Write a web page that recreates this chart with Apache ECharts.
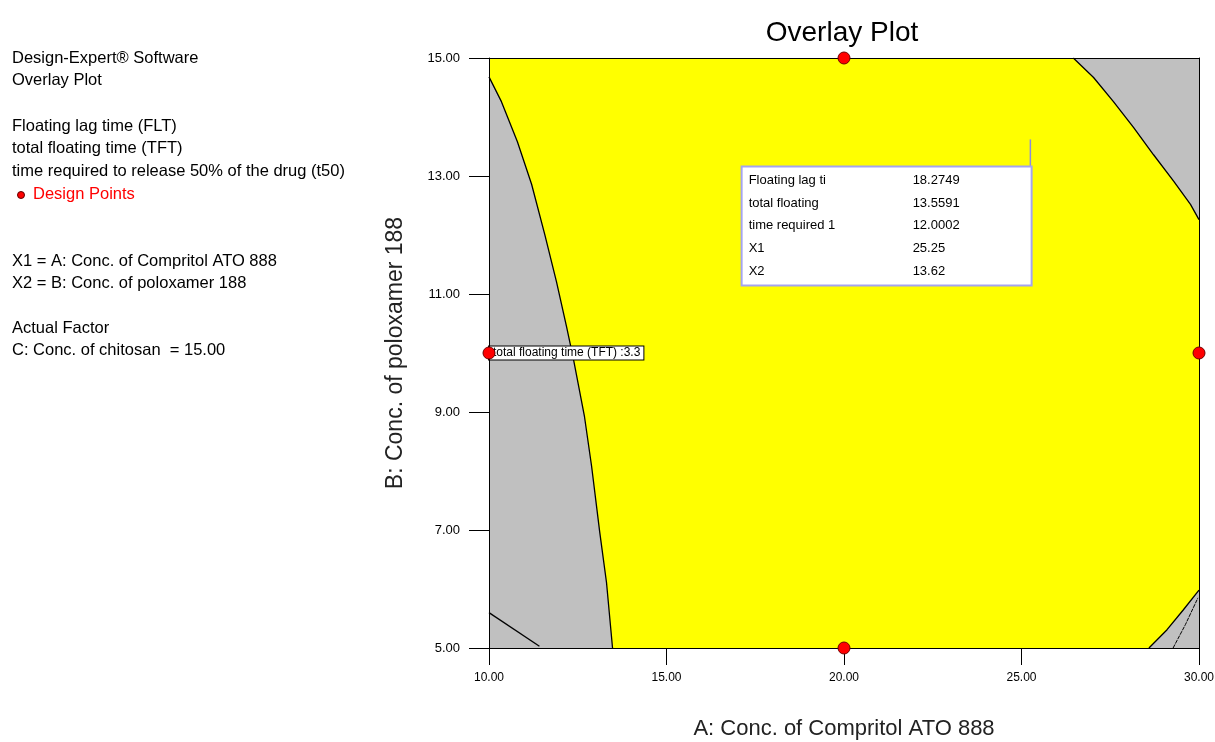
<!DOCTYPE html>
<html>
<head>
<meta charset="utf-8">
<script src="https://cdn.jsdelivr.net/npm/echarts@6/dist/echarts.min.js"></script>
<style>
  html, body { margin: 0; padding: 0; background: #fff; }
  #chart { width: 1215px; height: 742px; }
</style>
</head>
<body>
<div id="chart"></div>
<script>
// Factor ranges and tick values
const xTicks = [10, 15, 20, 25, 30];
const yTicks = [5, 7, 9, 11, 13, 15];

// Boundaries of the region that meets all response criteria (A, B)
const leftBoundary = [
  [13.48, 5.00], [13.31, 6.11], [13.12, 6.96], [12.89, 8.08], [12.69, 8.92],
  [12.38, 9.89], [12.19, 10.43], [11.90, 11.21], [11.57, 12.01], [11.20, 12.86],
  [10.80, 13.58], [10.35, 14.26], [10.00, 14.68]
];
const topRightBoundary = [
  [26.46, 15.00], [27.03, 14.67], [27.59, 14.26], [28.16, 13.82],
  [28.72, 13.36], [29.29, 12.91], [29.76, 12.52], [30.00, 12.26]
];
const bottomRightBoundary = [
  [30.00, 5.98], [29.55, 5.64], [29.10, 5.31], [28.59, 5.00]
];

// Other contour lines lying in the excluded area
const bottomLeftContour = [[10.00, 5.60], [11.42, 5.03]];
const bottomRightContour = [[29.27, 5.00], [29.62, 5.40], [29.97, 5.85]];

// Design points and flags
const designPoints = [[20, 15], [20, 5], [10, 10], [30, 10]];
const flagPoint = [10, 10];
const flagText = 'total floating time (TFT) :3.3';
const optimumPoint = [25.25, 13.62];
const optimumNames = ['Floating lag ti', 'total floating', 'time required 1', 'X1', 'X2'];
const optimumValues = ['18.2749', '13.5591', '12.0002', '25.25', '13.62'];

// Side notes
const sideNotes = [
  ['Design-Expert® Software', 58, '#000'],
  ['Overlay Plot', 80, '#000'],
  ['Floating lag time (FLT)', 126, '#000'],
  ['total floating time (TFT)', 148, '#000'],
  ['time required to release 50% of the drug (t50)', 171, '#000'],
  ['Design Points', 194, '#ff0000'],
  ['X1 = A: Conc. of Compritol ATO 888', 261, '#000'],
  ['X2 = B: Conc. of poloxamer 188', 283, '#000'],
  ['Actual Factor', 328, '#000'],
  ['C: Conc. of chitosan  = 15.00', 350, '#000']
];

// Closed outline of the feasible (yellow) region
const feasibleRegion = [[10, 15]]
  .concat(topRightBoundary, bottomRightBoundary, leftBoundary);

const FONT = '"Liberation Sans", Arial, sans-serif';
const chart = echarts.init(document.getElementById('chart'), null, { renderer: 'canvas' });

const graphics = [{
  type: 'text', x: 842, y: 33,
  style: { text: 'Overlay Plot', font: '28px ' + FONT, fill: '#000',
    textAlign: 'center', textVerticalAlign: 'middle' }
}];
sideNotes.forEach(([t, y, c]) => {
  const isLegend = t === 'Design Points';
  graphics.push({
    type: 'text', x: isLegend ? 33 : 12, y: y,
    style: { text: t, font: '16.5px ' + FONT, fill: c, textVerticalAlign: 'middle' }
  });
});
graphics.push({
  type: 'circle', shape: { cx: 21, cy: 195, r: 3.5 },
  style: { fill: '#ff0000', stroke: '#600000', lineWidth: 1 }
});

const twoDec = v => v.toFixed(2);
const contourLine = (data) => ({
  type: 'line', data: data, showSymbol: false, symbol: 'none', silent: true,
  lineStyle: { color: '#000', width: 1.3 }, z: 3, animation: false
});

const option = {
  animation: false,
  backgroundColor: '#fff',
  grid: {
    left: 489, right: 16, top: 58, bottom: 94,
    show: true, backgroundColor: '#c0c0c0', borderWidth: 0,
    outerBoundsMode: 'none'
  },
  graphic: graphics,
  xAxis: [{
    type: 'value', min: 10, max: 30, interval: 5, position: 'bottom', z: 6,
    name: 'A: Conc. of Compritol ATO 888', nameLocation: 'middle', nameGap: 70,
    nameTextStyle: { fontFamily: FONT, fontSize: 22, color: '#222' },
    axisLine: { show: true, lineStyle: { color: '#000', width: 1 } },
    axisTick: { show: true, inside: false, length: 17, lineStyle: { color: '#000' } },
    axisLabel: { formatter: twoDec, fontFamily: FONT, fontSize: 12, color: '#000', margin: 24,
      customValues: xTicks },
    splitLine: { show: false }
  }, {
    type: 'value', min: 10, max: 30, position: 'top', z: 6,
    axisLine: { show: true, lineStyle: { color: '#000', width: 1 } },
    axisTick: { show: false }, axisLabel: { show: false }, splitLine: { show: false }
  }],
  yAxis: [{
    type: 'value', min: 5, max: 15, interval: 2, position: 'left', z: 6,
    name: 'B: Conc. of poloxamer 188', nameLocation: 'middle', nameGap: 82, nameRotate: 90,
    nameTextStyle: { fontFamily: FONT, fontSize: 23, color: '#222' },
    axisLine: { show: true, lineStyle: { color: '#000', width: 1 } },
    axisTick: { show: true, inside: false, length: 20, lineStyle: { color: '#000' } },
    axisLabel: { formatter: twoDec, fontFamily: FONT, fontSize: 13, color: '#000', margin: 29,
      customValues: yTicks },
    splitLine: { show: false }
  }, {
    type: 'value', min: 5, max: 15, position: 'right', z: 6,
    axisLine: { show: true, lineStyle: { color: '#000', width: 1 } },
    axisTick: { show: false }, axisLabel: { show: false }, splitLine: { show: false }
  }],
  series: [
    {
      type: 'custom', silent: true, z: 1, clip: false,
      data: [[20, 10]],
      renderItem: (params, api) => ({
        type: 'polygon',
        shape: { points: feasibleRegion.map(p => api.coord(p)) },
        style: { fill: '#ffff00', stroke: 'none' }
      })
    },
    contourLine(leftBoundary),
    contourLine(topRightBoundary),
    contourLine(bottomRightBoundary),
    contourLine(bottomLeftContour),
    Object.assign(contourLine(bottomRightContour), { lineStyle: { color: '#000', width: 1, type: [4, 1] } }),
    {
      // flag attached to a design point
      type: 'scatter', data: [flagPoint], silent: true, z: 4, clip: false,
      symbol: 'circle', symbolSize: 12, itemStyle: { color: 'transparent', opacity: 1 },
      label: {
        show: true, formatter: flagText, position: [6, 6], align: 'left', verticalAlign: 'middle',
        fontFamily: FONT, fontSize: 12, color: '#000', backgroundColor: '#fff', opacity: 1,
        borderColor: '#000', borderWidth: 1, padding: [1, 3, 0, 4]
      }
    },
    {
      // optimum point: leader line down to the readout box
      type: 'scatter', data: [optimumPoint], silent: true, z: 4, clip: false,
      symbol: 'rect', symbolSize: [1.5, 28], symbolOffset: [0, 14],
      itemStyle: { color: '#8c8ce0', opacity: 1 },
      label: {
        show: true, position: [1, 28], align: 'right', verticalAlign: 'top', opacity: 1,
        formatter: optimumNames.map((n, i) => '{a|' + n + '}{b|' + optimumValues[i] + '}').join('\n'),
        backgroundColor: '#fff', borderColor: '#a4a4f0', borderWidth: 2, padding: [2, 6, 2, 6],
        rich: {
          a: { width: 164, align: 'left', fontFamily: FONT, fontSize: 13, color: '#000', lineHeight: 22.6 },
          b: { width: 112, align: 'left', fontFamily: FONT, fontSize: 13, color: '#000', lineHeight: 22.6 }
        }
      }
    },
    {
      type: 'scatter', data: designPoints, silent: true, z: 6, clip: false,
      symbol: 'circle', symbolSize: 12,
      itemStyle: { color: '#ff0000', borderColor: '#700000', borderWidth: 1, opacity: 1 }
    }
  ]
};

chart.setOption(option);
</script>
</body>
</html>
